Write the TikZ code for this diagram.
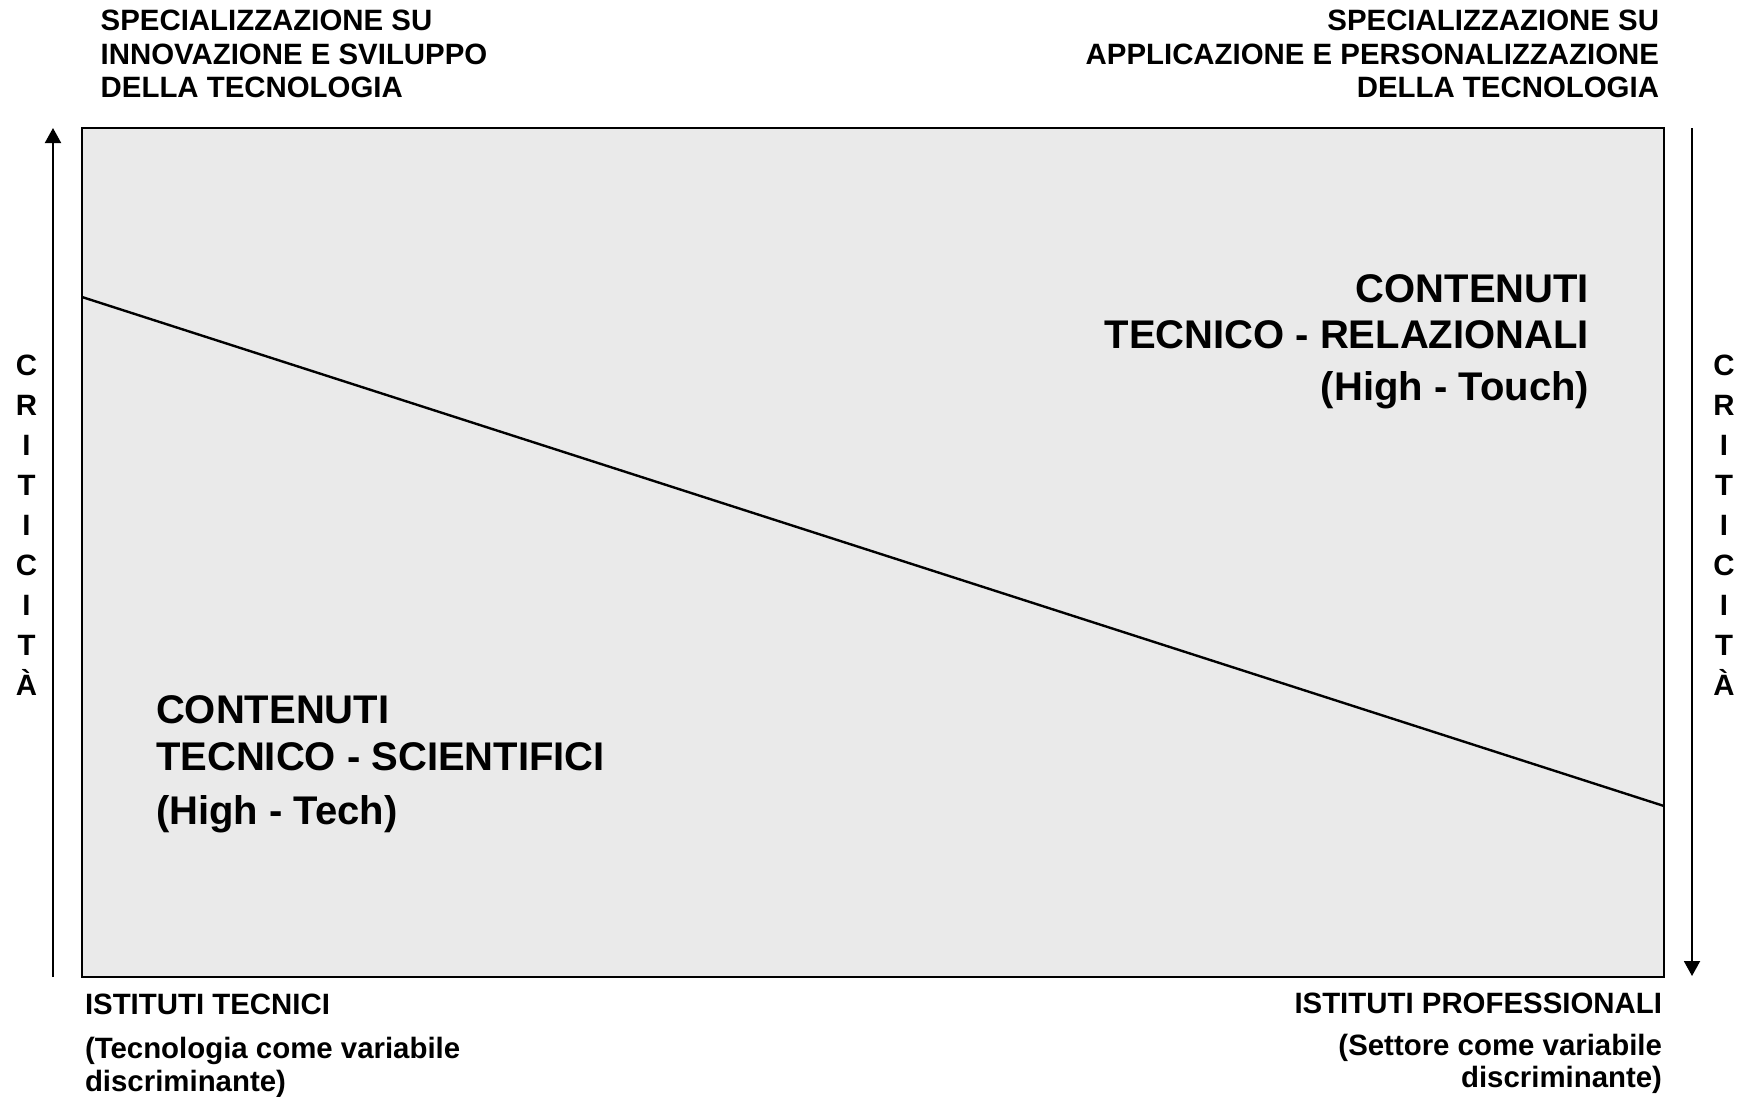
\documentclass[tikz,border=0pt]{standalone}
\usepackage{fontspec}
\setmainfont{Liberation Sans}
\usetikzlibrary{arrows.meta}
\definecolor{boxfill}{RGB}{234,234,234}
\begin{document}
\begin{tikzpicture}[x=1pt,y=-1pt,
  lbl/.style={inner sep=0pt, outer sep=0pt, font=\bfseries\fontsize{29.4}{33.3}\selectfont},
  big/.style={inner sep=0pt, outer sep=0pt, font=\bfseries\fontsize{40}{46.6}\selectfont},
  vert/.style={inner sep=0pt, outer sep=0pt, anchor=north, align=center, font=\bfseries\fontsize{29.4}{40}\selectfont},
  axisarrow/.style={line width=2pt, -{Triangle[length=15pt,width=16pt]}},
  divider/.style={line width=2.4pt},
]
\useasboundingbox (0,0) rectangle (1740,1096);

% main box
\node[draw=black, line width=2.5pt, fill=boxfill, anchor=north west,
      minimum width=1582pt, minimum height=849pt, inner sep=0pt, outer sep=0pt] (box) at (82,128) {};

% diagonal divider
\coordinate (divL) at (82,297);
\coordinate (divR) at (1664,806);
\draw[divider] (divL) -- (divR);

% criticity arrows
\coordinate (laS) at (53,977);
\coordinate (laE) at (53,128);
\draw[axisarrow] (laS) -- (laE);
\coordinate (raS) at (1692,128);
\coordinate (raE) at (1692,976);
\draw[axisarrow] (raS) -- (raE);

% top labels
\node[lbl, anchor=north west, align=left] (topL) at (100.7,10.2)
  {SPECIALIZZAZIONE SU\\INNOVAZIONE E SVILUPPO\\DELLA TECNOLOGIA};
\node[lbl, anchor=north east, align=right] (topR) at (1659,10.2)
  {SPECIALIZZAZIONE SU\\APPLICAZIONE E PERSONALIZZAZIONE\\DELLA TECNOLOGIA};

% big contents
\node[big, anchor=north east, align=right, font=\bfseries\fontsize{40}{45.5}\selectfont] (hiTouch) at (1589,275)
  {CONTENUTI\\TECNICO - RELAZIONALI\\[7pt](High - Touch)};
\node[big, anchor=north west, align=left] (hiTech) at (156,695.5)
  {CONTENUTI\\TECNICO - SCIENTIFICI\\[8pt](High - Tech)};

% vertical words
\node[vert] (critL) at (26.5,355.2) {C\\R\\I\\T\\I\\C\\I\\T\\À};
\node[vert] (critR) at (1724,355.2) {C\\R\\I\\T\\I\\C\\I\\T\\À};

% bottom labels
\node[lbl, anchor=north west, align=left, font=\bfseries\fontsize{29.4}{32.7}\selectfont] (botL) at (85,993.5)
  {ISTITUTI TECNICI\\[12pt](Tecnologia come variabile\\discriminante)};
\node[lbl, anchor=north east, align=right, font=\bfseries\fontsize{29.4}{32}\selectfont] (botR) at (1662,993)
  {ISTITUTI PROFESSIONALI\\[10pt](Settore come variabile\\discriminante)};
\end{tikzpicture}
\end{document}
